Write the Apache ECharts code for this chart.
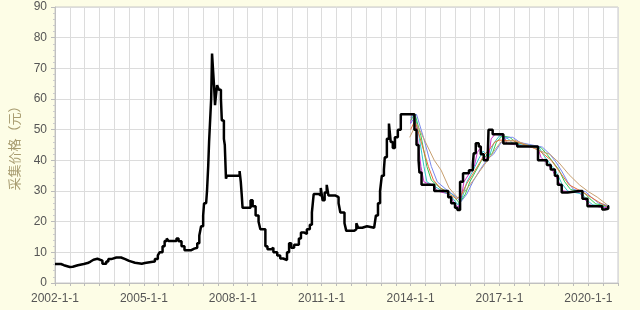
<!DOCTYPE html>
<html><head><meta charset="utf-8">
<script src="https://cdn.jsdelivr.net/npm/echarts@6/dist/echarts.min.js"></script>
<style>html,body{margin:0;padding:0;background:#fdfde6;}#c{width:640px;height:310px;}</style>
</head><body><div id="c"></div>
<script>
// x = years since 2002-01-01
const startYear = 2002;
const yAxisName = '采集价格（元）';
const priceData = [
[0,6.2],[0.2,5.8],[0.3,5.2],[0.5,5.3],[0.6,5.8],[0.77,6.2],[0.97,6.5],[1.1,7.0],[1.2,7.6],[1.3,7.9],
[1.43,7.3],[1.6,6.3],[1.73,7.0],[1.8,7.8],[1.9,8.3],[2.07,8.3],[2.23,7.8],[2.37,7.2],[2.5,6.6],[2.7,6.3],
[2.93,6.5],[3.03,6.9],[3.3,7.0],[3.37,7.8],[3.47,9.0],[3.53,10.0],[3.63,12.0],[3.7,13.7],[3.77,14.5],[3.83,13.7],
[4.1,14.5],[4.17,13.6],[4.27,12.0],[4.37,10.7],[4.6,11.2],[4.7,11.5],[4.8,13.0],[4.87,15.5],[4.93,18.5],[5.0,22.0],
[5.03,26.0],[5.1,25.5],[5.13,30.0],[5.17,38.0],[5.2,46.0],[5.23,52.0],[5.27,60.0],[5.3,74.8],[5.33,70.0],[5.37,64.0],
[5.4,58.0],[5.43,61.0],[5.47,64.5],[5.53,63.0],[5.6,60.0],[5.63,53.0],[5.7,47.0],[5.73,45.0],[5.77,34.0],[5.8,35.0],
[6.23,36.5],[6.27,33.0],[6.3,29.0],[6.33,24.5],[6.6,27.0],[6.67,25.0],[6.77,22.0],[6.87,20.0],[6.93,17.5],[7.1,12.0],
[7.17,11.0],[7.3,11.5],[7.37,10.0],[7.5,9.0],[7.6,8.0],[7.7,7.5],[7.83,10.0],[7.9,13.0],[7.97,11.5],[8.07,12.5],
[8.23,14.5],[8.3,16.5],[8.4,16.0],[8.5,17.5],[8.6,19.0],[8.67,23.0],[8.73,29.0],[8.9,28.5],[8.97,31.0],[9.03,27.0],
[9.1,29.5],[9.17,32.0],[9.23,28.5],[9.47,28.0],[9.57,26.0],[9.63,23.0],[9.77,19.5],[9.83,17.0],[10.1,17.5],[10.17,19.5],
[10.23,18.0],[10.37,18.5],[10.53,18.0],[10.77,18.5],[10.83,22.0],[10.9,26.0],[10.97,30.0],[11.03,35.0],[11.1,37.0],[11.13,41.0],
[11.2,47.0],[11.27,52.0],[11.33,46.0],[11.4,44.0],[11.47,47.5],[11.57,50.0],[11.67,55.0],[12.13,50.0],[12.2,45.0],[12.27,40.0],
[12.3,36.0],[12.37,32.0],[12.8,30.0],[13.27,28.0],[13.37,26.0],[13.5,24.5],[13.58,23.8],[13.67,33.0],[13.77,35.8],[13.97,36.8],
[14.1,38.5],[14.13,42.3],[14.2,45.6],[14.3,44.5],[14.37,42.0],[14.47,40.0],[14.6,39.5],[14.63,50.0],[14.77,48.5],[15.13,45.5],
[15.6,44.5],[16.3,40.0],[16.6,38.5],[16.73,37.0],[16.87,35.0],[16.97,32.0],[17.1,29.5],[17.3,30.0],[17.7,30.0],[17.8,27.5],
[17.97,25.0],[18.47,24.0],[18.55,24.2],[18.67,25.0],[18.7,25.0]
];
const maMagenta = [[12.0,52],[12.05,55],[12.15,54],[12.25,46],[12.35,38],[12.45,33],[12.8,31.5],[12.9,30],[13.3,29],[13.45,26.5],[13.6,24.5],[13.7,27],[13.8,33],[14.0,36],[14.15,38],[14.25,42.5],[14.35,44],[14.5,41],[14.62,40],[14.72,47],[14.85,48.5],[15.15,48],[15.25,45.5],[15.6,45],[16.3,44],[16.4,41],[16.6,39],[16.8,36.5],[17.0,33],[17.15,30],[17.7,29.5],[17.85,27.5],[18.05,25.5],[18.5,24.5],[18.7,24.8]];
const maCyan = [[12.0,54],[12.15,55],[12.3,47],[12.45,38],[12.55,33],[12.9,31],[13.35,28.5],[13.6,25.5],[13.75,28],[13.9,33],[14.1,36.5],[14.3,40.5],[14.45,43],[14.65,41],[14.8,45.5],[15.0,48],[15.3,47],[15.45,45.5],[16.35,44],[16.5,41.5],[16.7,39],[16.9,36.5],[17.1,32.5],[17.3,30],[17.8,29],[17.95,27],[18.15,25.5],[18.7,24.8]];
const maGreen = [[12.0,53],[12.15,55],[12.35,48],[12.55,38],[12.7,33.5],[13.0,31],[13.4,29],[13.65,26],[13.85,29],[14.0,33],[14.2,36.5],[14.4,40],[14.6,42],[14.75,42],[14.9,46],[15.1,48],[15.35,47.5],[15.55,45.8],[16.4,44.2],[16.6,42],[16.8,39.5],[17.0,37],[17.2,33],[17.4,30.5],[17.85,29.5],[18.05,27.5],[18.25,25.8],[18.7,25]];
const maBlue = [[12.0,52],[12.2,55],[12.45,47],[12.7,38],[12.9,33],[13.2,30.5],[13.55,28],[13.7,26.5],[13.9,29],[14.1,33],[14.35,37],[14.6,40.5],[14.8,42],[15.0,45],[15.2,47.5],[15.45,47.5],[15.7,45.8],[16.45,44.3],[16.7,42],[16.9,39.5],[17.1,36.5],[17.3,33],[17.5,30.5],[17.9,29.8],[18.1,28],[18.35,26],[18.7,25.2]];
const maOrange = [[12.0,50],[12.15,53],[12.37,45.6],[12.6,38],[12.77,33.6],[13.0,31],[13.3,29],[13.55,27.5],[13.7,28.5],[13.9,32.5],[14.1,35.5],[14.35,39.5],[14.5,42],[14.65,43.4],[14.85,46],[15.0,46.6],[15.5,46.3],[16.3,43.5],[16.75,40],[17.05,36],[17.35,32],[17.8,29.7],[18.35,26.4],[18.65,24.8]];
const maTan = [[11.97,47.5],[12.2,52],[12.5,46],[12.8,40],[13.03,36.8],[13.3,31],[13.6,27.7],[13.8,29.5],[14.05,32.6],[14.3,36],[14.6,40],[14.85,43.5],[15.05,46],[15.5,46.6],[16.0,44.8],[16.3,43.3],[16.7,42],[17.0,39.3],[17.35,35.3],[17.7,32],[18.0,29.8],[18.3,28],[18.65,25.4]];
const maColors = ['#cc33cc','#33c8cc','#33cc55','#7788ee','#e8703a','#c8a070'];

const chart = echarts.init(document.getElementById('c'));
const maSets = [maMagenta, maCyan, maGreen, maBlue, maOrange, maTan];
const series = maSets.map((d,i)=>({
  type:'line', data:d, xAxisIndex:0, showSymbol:false, symbol:'none', silent:true,
  lineStyle:{color:maColors[i], width:1}, z:2+i
}));
series.push({type:'line', data:priceData, step:'end', xAxisIndex:0, symbol:'none', showSymbol:false,
  lineStyle:{color:'#000', width:2.5}, z:10});
chart.setOption({
  animation:false,
  backgroundColor:'#fdfde6',
  grid:{left:49, right:22, top:7, bottom:27, show:true, backgroundColor:'#ffffff', borderColor:'#c8c8c8', borderWidth:1},
  xAxis:[{
    type:'value', min:0, max:19, interval:3,
    axisLine:{show:true, lineStyle:{color:'#c0c0c0'}},
    axisTick:{show:false},
    splitLine:{show:false},
    axisLabel:{color:'#555', fontSize:12, fontFamily:'Liberation Sans, Arial, sans-serif', margin:10, showMaxLabel:false,
      formatter:v=>(startYear+v)+'-1-1'}
  },{
    type:'value', min:0, max:19, interval:0.5, position:'bottom',
    axisLine:{show:false}, axisLabel:{show:false},
    axisTick:{show:true, length:3, lineStyle:{color:'#bbb'}},
    splitLine:{show:true, lineStyle:{color:'#dcdcdc', width:1}}
  }],
  yAxis:{
    type:'value', min:0, max:90, interval:10,
    name:yAxisName, nameLocation:'middle', nameGap:34, nameRotate:90,
    nameTextStyle:{color:'#a89c70', fontSize:13, fontFamily:'Noto Sans CJK SC'},
    axisLine:{show:true, lineStyle:{color:'#c0c0c0'}},
    axisTick:{show:true, length:4, lineStyle:{color:'#bbb'}},
    minorTick:{show:true, splitNumber:5, length:2, lineStyle:{color:'#ccc'}},
    splitLine:{show:true, lineStyle:{color:'#dcdcdc'}},
    axisLabel:{color:'#555', fontSize:12, fontFamily:'Liberation Sans, Arial, sans-serif', margin:8}
  },
  series:series
});
</script></body></html>
